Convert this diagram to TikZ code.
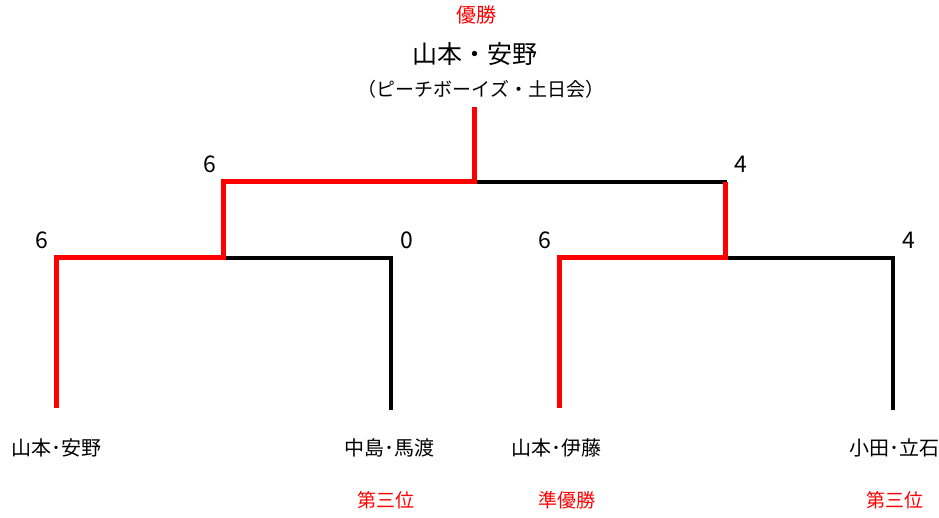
\documentclass[tikz,border=0pt]{standalone}
\usepackage{fontspec}
\setmainfont{Noto Sans CJK JP}
\begin{document}
\begin{tikzpicture}[x=1pt,y=-1pt,
  win/.style={line width=5pt,red},
  lose/.style={line width=3.5pt,black,line cap=rect},
  score/.style={font=\fontsize{23}{27}\selectfont},
  pair/.style={font=\fontsize{20}{24}\selectfont},
  rank/.style={text=red,font=\fontsize{19}{23}\selectfont}]
\useasboundingbox (0,0) rectangle (939,518);
\coordinate (p1) at (56,408);
\coordinate (p2) at (391,408);
\coordinate (p3) at (559,408);
\coordinate (p4) at (893,408);
\coordinate (a1) at (56,258);
\coordinate (a2) at (391,258);
\coordinate (a3) at (559,258);
\coordinate (a4) at (893,258);
\coordinate (m1) at (223,258);
\coordinate (m2) at (725,258);
\coordinate (b1) at (223,182);
\coordinate (b2) at (725,182);
\coordinate (top) at (474,182);
\coordinate (final) at (474,107);
\draw[lose] (m1)--(a2)--(p2);
\draw[lose] (m2)--(a4)--(p4);
\draw[lose] (top)--(b2);
\draw[win] (p1)--(a1)--(m1)--(b1)--(top)--(final);
\draw[win] (p3)--(a3)--(m2)--(b2);
\node[score] (s1) at (210,164) {6};
\node[score] (s2) at (741,164) {4};
\node[score] (s11) at (42,240) {6};
\node[score] (s12) at (407,240) {0};
\node[score] (s21) at (545,240) {6};
\node[score] (s22) at (909,240) {4};
\node[text=red,font=\fontsize{20}{24}\selectfont] (champ) at (476,15) {優勝};
\node[font=\fontsize{25}{30}\selectfont] (winner) at (475,54) {山本・安野};
\node[font=\fontsize{19}{23}\selectfont] (club) at (481,89) {（ピーチボーイズ・土日会）};
\node[pair] (n1) at (56,448) {山本･安野};
\node[pair] (n2) at (389,448) {中島･馬渡};
\node[pair] (n3) at (556,448) {山本･伊藤};
\node[pair] (n4) at (894,448) {小田･立石};
\node[rank] (r2) at (386,500) {第三位};
\node[rank] (r3) at (567,500) {準優勝};
\node[rank] (r4) at (895,500) {第三位};
\end{tikzpicture}
\end{document}
